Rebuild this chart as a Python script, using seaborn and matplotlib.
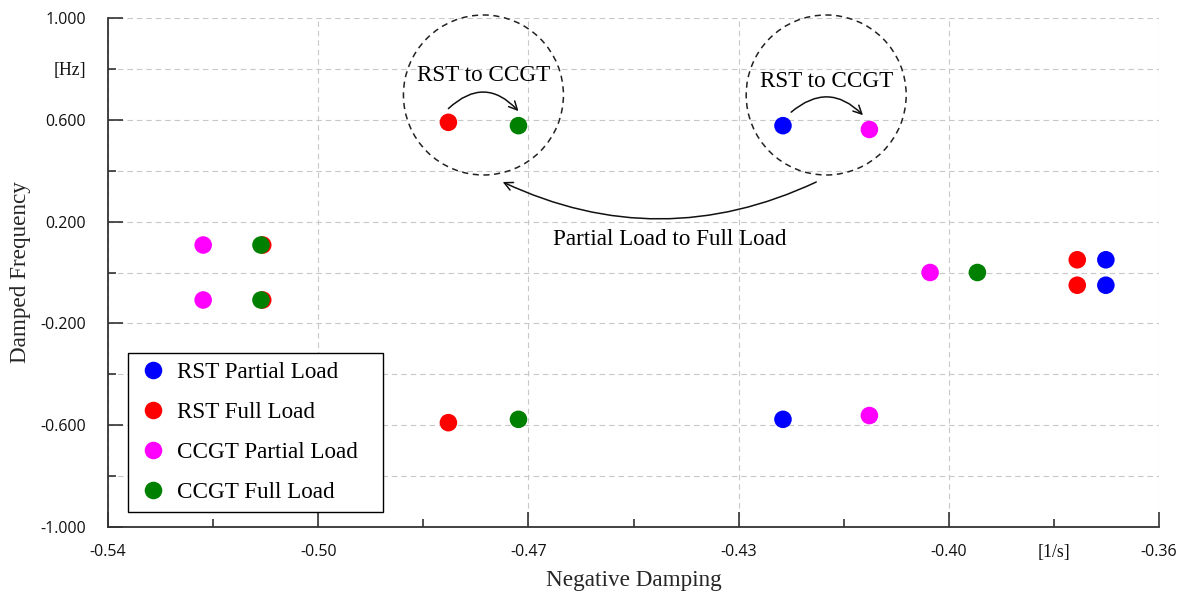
import numpy as np
import pandas as pd
import matplotlib
matplotlib.use("Agg")
import matplotlib.pyplot as plt
from matplotlib.patches import Ellipse
from matplotlib.ticker import FixedLocator, FixedFormatter
import seaborn as sns

# Eigenvalues of the oscillatory modes (negative damping vs damped frequency)
series_names = ["RST Partial Load", "RST Full Load", "CCGT Partial Load", "CCGT Full Load"]
series_colors = ["#0000ff", "#ff0000", "#ff00ff", "#008000"]

rst_partial_x = [-0.4244, -0.4244, -0.3691, -0.3691]
rst_partial_y = [0.577, -0.577, 0.050, -0.050]
rst_full_x = [-0.4817, -0.4817, -0.3740, -0.3740, -0.5135, -0.5135]
rst_full_y = [0.590, -0.590, 0.050, -0.050, 0.108, -0.108]
ccgt_partial_x = [-0.4096, -0.4096, -0.3992, -0.5237, -0.5237]
ccgt_partial_y = [0.562, -0.562, 0.000, 0.108, -0.108]
ccgt_full_x = [-0.4697, -0.4697, -0.3911, -0.5138, -0.5138]
ccgt_full_y = [0.577, -0.577, 0.000, 0.108, -0.108]

x_ticks = [-0.54, -0.504, -0.468, -0.432, -0.396, -0.36]
x_tick_labels = ["-0.54", "-0.50", "-0.47", "-0.43", "-0.40", "-0.36"]
y_ticks = [1.0, 0.6, 0.2, -0.2, -0.6, -1.0]
y_tick_labels = ["1.000", "0.600", "0.200", "-0.200", "-0.600", "-1.000"]
x_unit = "[1/s]"
y_unit = "[Hz]"

x_label = "Negative Damping"
y_label = "Damped Frequency"
swap_text = "RST to CCGT"
load_text = "Partial Load to Full Load"

sns.set_theme(style="white")
serif = ["Liberation Serif", "DejaVu Serif"]
sans = ["Open Sans", "DejaVu Sans"]
plt.rcParams["font.family"] = serif
plt.rcParams["text.color"] = "black"

frames = []
for name, xs, ys in zip(series_names,
                        [rst_partial_x, rst_full_x, ccgt_partial_x, ccgt_full_x],
                        [rst_partial_y, rst_full_y, ccgt_partial_y, ccgt_full_y]):
    frames.append(pd.DataFrame({"damping": xs, "freq": ys, "series": name}))
df = pd.concat(frames, ignore_index=True)

fig = plt.figure(figsize=(11.84, 5.95), dpi=100)
ax = fig.add_axes([108 / 1184, 1 - 527 / 595, 1051 / 1184, 509 / 595])

sns.scatterplot(data=df, x="damping", y="freq", hue="series", hue_order=series_names,
                palette=dict(zip(series_names, series_colors)), s=160, linewidth=0,
                ax=ax, zorder=3)

ax.set_xlim(-0.54, -0.36)
ax.set_ylim(-1.0, 1.0)

# Ticks: major labelled, minor carry the units
x_minor = [(a + b) / 2 for a, b in zip(x_ticks[:-1], x_ticks[1:])]
y_minor = [(a + b) / 2 for a, b in zip(y_ticks[:-1], y_ticks[1:])]
ax.xaxis.set_major_locator(FixedLocator(x_ticks))
ax.xaxis.set_major_formatter(FixedFormatter(x_tick_labels))
ax.yaxis.set_major_locator(FixedLocator(y_ticks))
ax.yaxis.set_major_formatter(FixedFormatter(y_tick_labels))
ax.xaxis.set_minor_locator(FixedLocator(x_minor))
ax.xaxis.set_minor_formatter(FixedFormatter(["", "", "", "", x_unit]))
ax.yaxis.set_minor_locator(FixedLocator(y_minor))
ax.yaxis.set_minor_formatter(FixedFormatter([y_unit, "", "", "", ""]))

spine_color = "#333333"
for side in ["top", "right"]:
    ax.spines[side].set_visible(False)
for side in ["left", "bottom"]:
    ax.spines[side].set_color(spine_color)
    ax.spines[side].set_linewidth(1.3)

ax.tick_params(which="both", direction="in", color=spine_color, width=1.2,
               labelcolor="#111111")
ax.tick_params(which="major", length=10.8, labelsize=11.5)
ax.tick_params(which="minor", length=5.8, labelsize=12.8)
ax.tick_params(axis="x", which="both", pad=12, bottom=True)
ax.tick_params(axis="y", which="both", pad=15.8, left=True)

grid_kw = dict(color="#c8c8c8", linestyle=(0, (5, 3.5)), linewidth=0.8)
ax.grid(which="major", axis="both", **grid_kw)
ax.grid(which="minor", axis="y", **grid_kw)
ax.set_axisbelow(True)

ax.set_xlabel(x_label, fontsize=16.7)
ax.set_ylabel(y_label, fontsize=16.7)
ax.xaxis.set_label_coords(0.5, -0.085)
ax.yaxis.set_label_coords(-0.073, 0.5)

# Dashed rings around the RST -> CCGT pairs
ring_y = 0.6975
ring_rx = 80 / (1051 / 0.18)
ring_ry = 80 / (509 / 2.0)
left_cx = (rst_full_x[0] + ccgt_full_x[0]) / 2
right_cx = (rst_partial_x[0] + ccgt_partial_x[0]) / 2
for cx in (left_cx, right_cx):
    ax.add_patch(Ellipse((cx, ring_y), 2 * ring_rx, 2 * ring_ry, fill=False,
                         edgecolor="#222222", linestyle=(0, (4, 3)), linewidth=1.1,
                         zorder=2, clip_on=False))

arrow_kw = dict(arrowstyle="->", color="#111111", lw=1.1, shrinkA=0, shrinkB=0,
                mutation_scale=15)
ax.annotate("", xy=(ccgt_full_x[0], ccgt_full_y[0] + 0.057),
            xytext=(rst_full_x[0], rst_full_y[0] + 0.054),
            arrowprops=dict(connectionstyle="arc3,rad=-0.5", **arrow_kw))
ax.annotate("", xy=(ccgt_partial_x[0] - 0.0011, ccgt_partial_y[0] + 0.056),
            xytext=(rst_partial_x[0] + 0.0014, rst_partial_y[0] + 0.053),
            arrowprops=dict(connectionstyle="arc3,rad=-0.46", **arrow_kw))
ax.annotate("", xy=(-0.4724, 0.3556), xytext=(-0.4187, 0.3556),
            arrowprops=dict(connectionstyle="arc3,rad=-0.234", **arrow_kw))

ax.text(left_cx, 0.775, swap_text, ha="center", va="center", fontsize=16.7)
ax.text(right_cx, 0.750, swap_text, ha="center", va="center", fontsize=16.7)
ax.text(-0.4438, 0.1300, load_text, ha="center", va="center", fontsize=16.7)

handles, labels = ax.get_legend_handles_labels()
leg = ax.legend(handles, labels, loc="lower left",
                bbox_to_anchor=(0.019, 0.0295, 255 / 1051, 0), mode="expand",
                frameon=True, fancybox=False, edgecolor="black", framealpha=1,
                borderpad=0.4, labelspacing=0.8, handlelength=1.4,
                handletextpad=0.31, fontsize=16.7, borderaxespad=0)
leg.get_frame().set_linewidth(1.0)

# Numeric tick labels in a sans face, unit labels stay serif
fig.canvas.draw()
for lbl in ax.get_xticklabels() + ax.get_yticklabels():
    lbl.set_fontfamily(sans)

fig.savefig("out.png", dpi=100)
